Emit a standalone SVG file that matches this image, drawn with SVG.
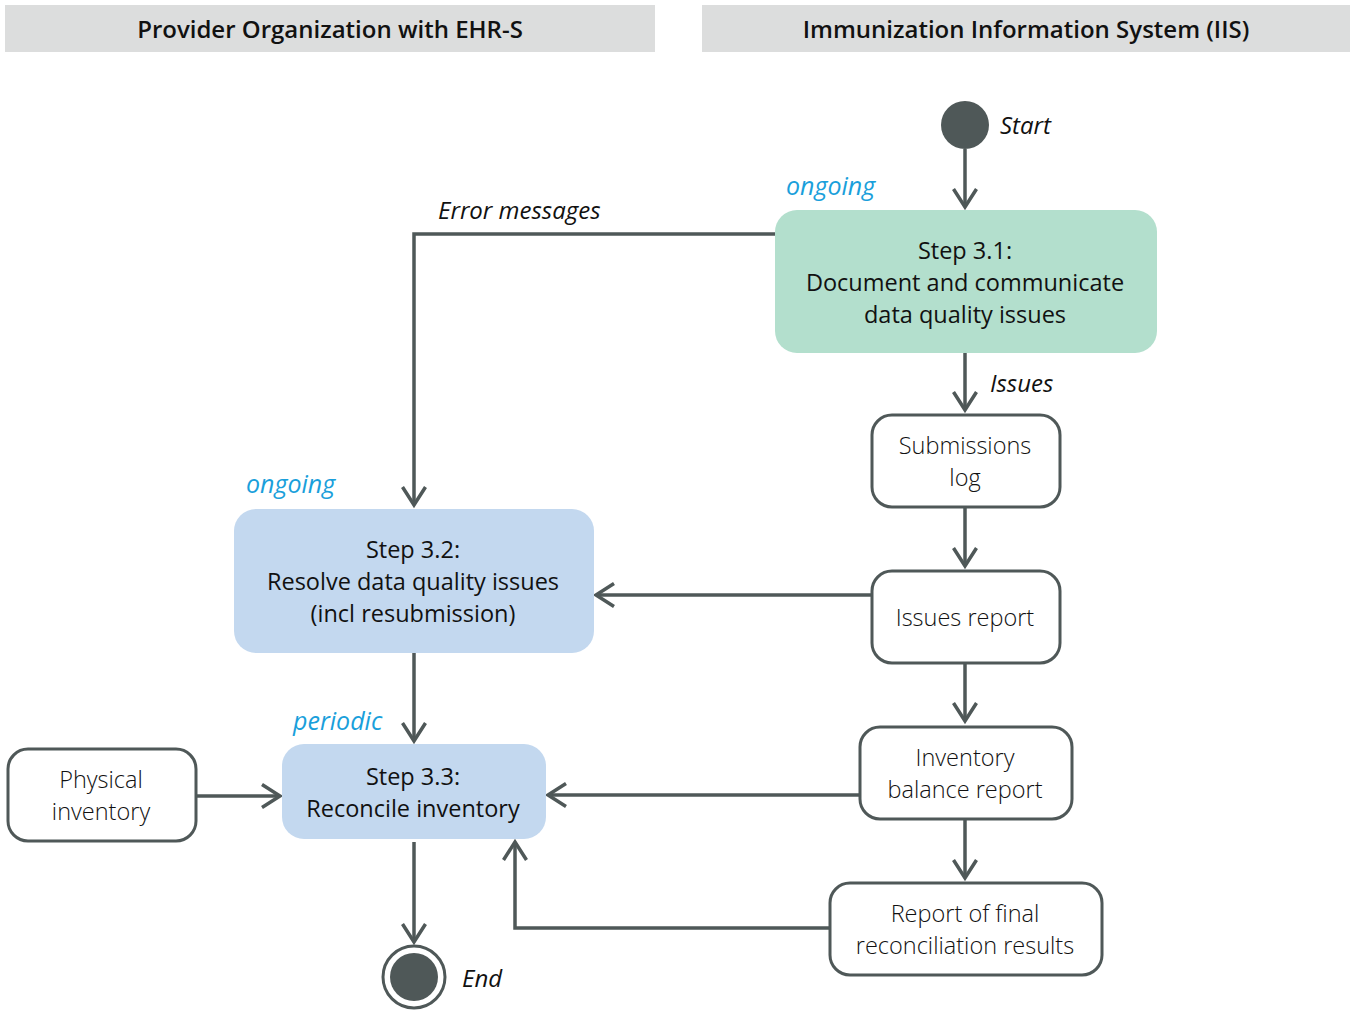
<svg xmlns="http://www.w3.org/2000/svg" width="1351" height="1010" viewBox="0 0 1351 1010">
<defs>
<marker id="arr" markerWidth="24" markerHeight="28" refX="19" refY="13" orient="auto" markerUnits="userSpaceOnUse">
<path d="M1,1.5 L19,13 L1,24.5" fill="none" stroke="#4f5858" stroke-width="3.5" stroke-linejoin="miter"/>
</marker>
<style>
.hdr{fill:#dcdddd}
.ht{font-family:"Open Sans",sans-serif;font-weight:600;font-size:24px;fill:#111;text-anchor:middle}
.step1{fill:#b3dfcd}
.step2{fill:#c3d8ef}
.obj{fill:#fff;stroke:#4f5858;stroke-width:3}
.st{font-family:"Open Sans",sans-serif;font-size:23.5px;fill:#111;text-anchor:middle}
.ot{font-family:"Open Sans",sans-serif;font-weight:300;font-size:23.5px;fill:#111;text-anchor:middle}
.lbl{font-family:"Open Sans",sans-serif;font-style:italic;font-size:24px;fill:#111}
.blue{font-family:"Open Sans",sans-serif;font-style:italic;font-size:25px;fill:#1a9fdb}
.c{fill:none;stroke:#4f5858;stroke-width:3.5;marker-end:url(#arr)}
.dot{fill:#4f5858}
</style>
</defs>
<rect width="1351" height="1010" fill="#fff"/>
<g id="lane-provider">
<rect class="hdr" x="5" y="5" width="650" height="47"/>
<text class="ht" x="330" y="38">Provider Organization with EHR-S</text>
</g>
<g id="lane-iis">
<rect class="hdr" x="702" y="5" width="648" height="47"/>
<text class="ht" x="1026" y="38">Immunization Information System (IIS)</text>
</g>
<g id="connectors">
<path class="c" d="M965,149 L965,207"/>
<path class="c" d="M775,234 L414,234 L414,505"/>
<path class="c" d="M965,353 L965,410"/>
<path class="c" d="M965,507 L965,566"/>
<path class="c" d="M871,595 L596,595"/>
<path class="c" d="M414,653 L414,741"/>
<path class="c" d="M965,663 L965,721"/>
<path class="c" d="M859,795 L548,795"/>
<path class="c" d="M965,820 L965,878"/>
<path class="c" d="M829,928 L515,928 L515,842"/>
<path class="c" d="M196,796 L280,796"/>
<path class="c" d="M414,842 L414,942"/>
</g>
<g id="start">
<circle class="dot" cx="965" cy="125" r="24"/>
<text class="lbl" x="1000" y="134">Start</text>
</g>
<g id="step31">
<rect class="step1" x="775" y="210" width="382" height="143" rx="22"/>
<text class="blue" x="786" y="195">ongoing</text>
<text class="st" x="965" y="259">Step 3.1:</text>
<text class="st" x="965" y="291">Document and communicate</text>
<text class="st" x="965" y="323">data quality issues</text>
</g>
<g id="label-error">
<text class="lbl" x="438" y="219">Error messages</text>
</g>
<g id="label-issues">
<text class="lbl" x="990" y="392">Issues</text>
</g>
<g id="submissions-log">
<rect class="obj" x="872" y="415" width="188" height="92" rx="20"/>
<text class="ot" x="965" y="454">Submissions</text>
<text class="ot" x="965" y="486">log</text>
</g>
<g id="issues-report">
<rect class="obj" x="872" y="571" width="188" height="92" rx="20"/>
<text class="ot" x="965" y="626">Issues report</text>
</g>
<g id="step32">
<rect class="step2" x="234" y="509" width="360" height="144" rx="22"/>
<text class="blue" x="246" y="493">ongoing</text>
<text class="st" x="413" y="558">Step 3.2:</text>
<text class="st" x="413" y="590">Resolve data quality issues</text>
<text class="st" x="413" y="622">(incl resubmission)</text>
</g>
<g id="step33">
<rect class="step2" x="282" y="744" width="264" height="95" rx="22"/>
<text class="blue" x="293" y="730">periodic</text>
<text class="st" x="413" y="785">Step 3.3:</text>
<text class="st" x="413" y="817">Reconcile inventory</text>
</g>
<g id="inventory-balance-report">
<rect class="obj" x="860" y="727" width="212" height="92" rx="20"/>
<text class="ot" x="965" y="766">Inventory</text>
<text class="ot" x="965" y="798">balance report</text>
</g>
<g id="final-report">
<rect class="obj" x="830" y="883" width="272" height="92" rx="20"/>
<text class="ot" x="965" y="922">Report of final</text>
<text class="ot" x="965" y="954">reconciliation results</text>
</g>
<g id="physical-inventory">
<rect class="obj" x="8" y="749" width="188" height="92" rx="20"/>
<text class="ot" x="101" y="788">Physical</text>
<text class="ot" x="101" y="820">inventory</text>
</g>
<g id="end">
<circle cx="414" cy="977" r="31" fill="#fff" stroke="#4f5858" stroke-width="3"/>
<circle class="dot" cx="414" cy="977" r="24"/>
<text class="lbl" x="462" y="987">End</text>
</g>
</svg>
